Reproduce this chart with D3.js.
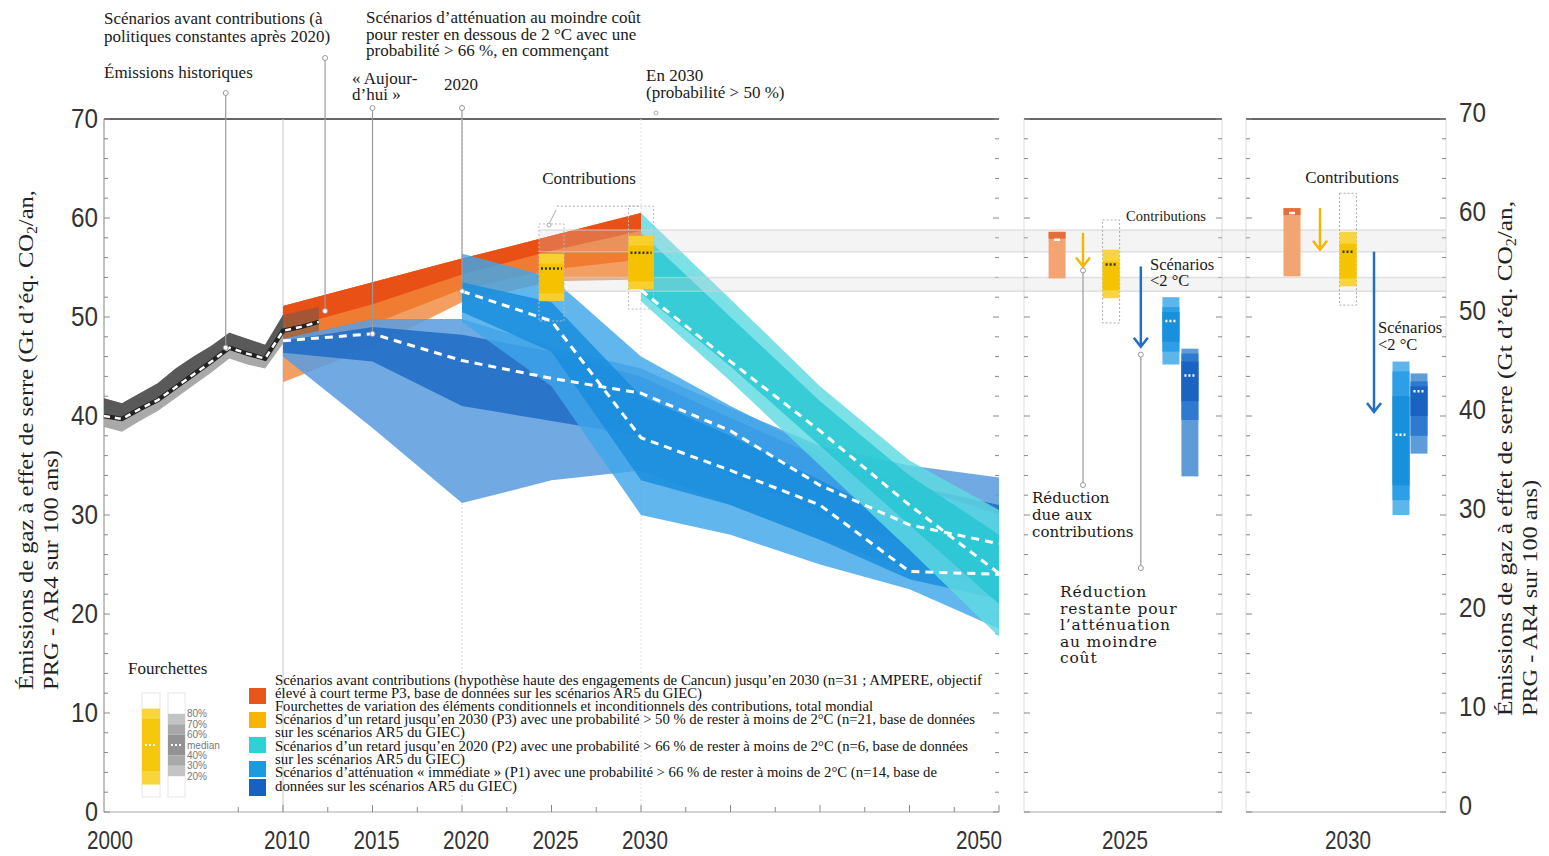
<!DOCTYPE html>
<html><head><meta charset="utf-8">
<script src="https://cdn.jsdelivr.net/npm/d3@7"></script>
<style>body{margin:0;background:#fff} svg{display:block}</style>
</head><body>
<svg id="c" width="1549" height="856"></svg>
<script>
// ---------------- DATA ----------------
const histYears  = [2000,2001,2002,2003,2004,2005,2006,2007,2008,2009,2010,2011,2012];
const histMedian = [40.0,39.7,40.7,41.6,42.9,44.2,45.5,46.9,46.3,45.8,48.6,49.0,49.5];
const histHigh   = [41.8,41.3,42.3,43.3,44.8,46.0,47.1,48.4,47.8,47.2,50.2,50.6,51.0];
const histLow    = [38.9,38.4,39.5,40.5,41.8,43.1,44.4,45.8,45.2,44.8,47.3,47.8,48.2];

const preYears = [2010,2015,2020,2025,2030];
const preMax   = [51.1,53.5,55.9,58.2,60.5];
const preP80   = [48.8,51.3,54.3,56.7,58.7];
const preP50   = [46.2,49.3,52.8,54.8,55.8];
const preMin   = [43.4,47.0,51.5,53.6,53.8];

const p1Years = [2010,2015,2020,2025,2030,2035,2040,2045,2050];
const p1Max   = [47.8,49.8,49.8,47.0,44.8,40.8,37.0,35.0,33.8];
const p1Hi    = [47.6,49.0,48.2,46.5,44.0,39.8,35.8,33.0,31.0];
const p1Lo    = [46.4,45.5,41.0,39.5,38.0,34.0,30.0,27.0,24.5];
const p1Min   = [46.0,38.8,31.2,33.5,34.5,31.0,27.5,24.5,22.5];
const p1Med   = [47.6,48.3,45.6,43.8,42.3,38.5,33.0,29.0,27.1];

const p2Years = [2020,2025,2030,2035,2040,2045,2050];
const p2Max   = [56.4,54.0,46.0,41.0,36.5,33.0,30.0];
const p2Hi    = [53.5,51.5,42.0,38.0,33.5,29.0,27.0];
const p2Lo    = [50.5,46.5,33.5,31.0,27.5,23.5,21.5];
const p2Min   = [49.5,43.0,30.0,28.0,25.0,22.5,18.5];
const p2Med   = [52.6,49.6,37.8,34.5,31.0,24.3,24.0];

const p3Years = [2030,2035,2040,2045,2050];
const p3Max   = [60.5,51.8,43.0,35.5,30.5];
const p3Hi    = [58.5,50.0,41.5,34.0,28.0];
const p3Lo    = [52.4,45.0,37.0,29.0,21.0];
const p3Min   = [51.6,43.5,35.0,26.5,17.7];
const p3Med   = [52.7,45.5,38.5,31.0,24.1];

const contribYears    = [2025,2030];
const contribMin      = [51.6,52.8];
const contribMax      = [56.4,58.2];
const contribMed      = [54.9,56.5];
const contribOuterMin = [49.6,50.8];
const contribOuterMax = [59.4,61.2];

// right panels
const panelLabels   = ["2025","2030"];
const ndcMin        = [53.9,54.1];
const ndcMax        = [58.6,61.0];
const ndcMark       = [57.8,60.5];
const rcMin         = [51.9,53.1];
const rcMax         = [56.8,58.6];
const rcMed         = [55.3,56.6];
const rcOuterMin    = [49.4,51.2];
const rcOuterMax    = [59.8,62.5];
const arrowCFrom    = [58.5,61.0];
const arrowCTo      = [55.1,56.8];
const arrowSFrom    = [55.1,56.6];
const arrowSTo      = [47.0,40.4];
const rP2Min = [45.2,30.0], rP2Lo = [46.5,31.5], rP2CoreLo = [47.5,33.0], rP2CoreHi = [50.5,42.0], rP2Hi = [51.0,44.5], rP2Max = [52.0,45.5], rP2Med = [49.6,38.1];
const rP1Min = [33.9,36.2], rP1Lo = [39.6,38.0], rP1CoreLo = [41.5,40.0], rP1CoreHi = [45.5,43.0], rP1Hi = [46.3,43.5], rP1Max = [46.8,44.3], rP1Med = [44.1,42.5];

const yTicks = [0,10,20,30,40,50,60,70];
const xTickLabels = [2000,2010,2015,2020,2025,2030,2050];

const legendColors = ["#e8561c","#f7b400","#2fd0d6","#1a9be0","#1761c2"];
const legendLines = [
  "Scénarios avant contributions (hypothèse haute des engagements de Cancun) jusqu’en 2030 (n=31 ; AMPERE, objectif",
  "élevé à court terme P3, base de données sur les scénarios AR5 du GIEC)",
  "Fourchettes de variation des éléments conditionnels et inconditionnels des contributions, total mondial",
  "Scénarios d’un retard jusqu’en 2030 (P3) avec une probabilité > 50 % de rester à moins de 2°C (n=21, base de données",
  "sur les scénarios AR5 du GIEC)",
  "Scénarios d’un retard jusqu’en 2020 (P2) avec une probabilité > 66 % de rester à moins de 2°C (n=6, base de données",
  "sur les scénarios AR5 du GIEC)",
  "Scénarios d’atténuation « immédiate » (P1) avec une probabilité > 66 % de rester à moins de 2°C (n=14, base de",
  "données sur les scénarios AR5 du GIEC)"
];
const legendLineWidths = [707,427,598,700,190,693,190,662,242];
const fourchetteLabels = ["80%","70%","60%","median","40%","30%","20%"];
const fourchetteLevels = [80,70,60,50,40,30,20];

// ---------------- LAYOUT ----------------
const svg = d3.select("#c");
const x = d3.scaleLinear().domain([2000,2050]).range([104,999]);
const y = d3.scaleLinear().domain([0,70]).range([812,119]);
const panels = [{x0:1024,x1:1222},{x0:1246,x1:1446}];
const slotFrac = [
  {ndc:0.167, arC:0.298, rc:0.44, arS:0.59, p2:0.742, p1:0.838},
  {ndc:0.23,  arC:0.37,  rc:0.51, arS:0.64, p2:0.775, p1:0.865}
];
const boxW = 17;
const serif = "'Liberation Serif','Times New Roman',serif";
const narrow = "'Liberation Sans Narrow','Arial Narrow','Liberation Sans',sans-serif";

const gBg = svg.append("g"), gData = svg.append("g"), gTop = svg.append("g");

function vTicks(g, xpos, dir){
  d3.range(0,71,2).forEach(v=>{
    const len = v%10===0 ? 6 : 4;
    g.append("line").attr("x1",xpos).attr("x2",xpos+dir*len).attr("y1",y(v)).attr("y2",y(v))
      .attr("stroke","#888").attr("stroke-width",1);
  });
}
gBg.append("line").attr("x1",x(2000)).attr("x2",x(2050)).attr("y1",y(70)).attr("y2",y(70)).attr("stroke","#666").attr("stroke-width",2);
gBg.append("line").attr("x1",x(2000)).attr("x2",x(2000)).attr("y1",y(70)).attr("y2",y(0)).attr("stroke","#999").attr("stroke-width",1.2);
gBg.append("line").attr("x1",x(2000)).attr("x2",x(2050)).attr("y1",y(0)).attr("y2",y(0)).attr("stroke","#aaa").attr("stroke-width",1.2);
vTicks(gBg, x(2000), 1);
vTicks(gBg, x(2050), -1);
[2010,2020,2030].forEach(yr=>{
  gBg.append("line").attr("x1",x(yr)).attr("x2",x(yr)).attr("y1",y(70)).attr("y2",y(0))
    .attr("stroke", yr===2010 ? "#c8c8c8":"#dedede").attr("stroke-width",1).attr("stroke-dasharray", yr===2010?null:"2,2");
});
d3.range(2007.5,2050.1,2.5).forEach(yr=>{
  gBg.append("line").attr("x1",x(yr)).attr("x2",x(yr)).attr("y1",y(0)).attr("y2",y(0)-(yr%5===0?7:5)).attr("stroke","#888");
});
panels.forEach((p,i)=>{
  gBg.append("line").attr("x1",p.x0).attr("x2",p.x1).attr("y1",y(70)).attr("y2",y(70)).attr("stroke","#666").attr("stroke-width",2);
  gBg.append("line").attr("x1",p.x0).attr("x2",p.x1).attr("y1",y(0)).attr("y2",y(0)).attr("stroke","#aaa").attr("stroke-width",1.2);
  gBg.append("line").attr("x1",p.x0).attr("x2",p.x0).attr("y1",y(70)).attr("y2",y(0)).attr("stroke","#ddd");
  gBg.append("line").attr("x1",p.x1).attr("x2",p.x1).attr("y1",y(70)).attr("y2",y(0)).attr("stroke","#ddd");
  vTicks(gBg, p.x0, 1); vTicks(gBg, p.x1, -1);
});

// y tick labels
yTicks.forEach(v=>{
  const w = v===0 ? 13 : 27;
  gTop.append("text").attr("x",98).attr("y",y(v)).attr("dy","0.35em").attr("text-anchor","end")
    .attr("font-family",narrow).attr("font-size",27).attr("fill","#333")
    .attr("textLength",w).attr("lengthAdjust","spacingAndGlyphs").text(v);
  gTop.append("text").attr("x",1459).attr("y",y(v)-6).attr("dy","0.35em").attr("text-anchor","start")
    .attr("font-family",narrow).attr("font-size",27).attr("fill","#333")
    .attr("textLength",w).attr("lengthAdjust","spacingAndGlyphs").text(v);
});
// x tick labels
xTickLabels.forEach(v=>{
  const xx = v===2050 ? x(v)-20 : x(v)+ (v===2000?6:4);
  gTop.append("text").attr("x",xx).attr("y",849).attr("text-anchor","middle")
    .attr("font-family",narrow).attr("font-size",26).attr("fill","#333")
    .attr("textLength",46).attr("lengthAdjust","spacingAndGlyphs").text(v);
});
panels.forEach((p,i)=>{
  gTop.append("text").attr("x",(p.x0+p.x1)/2+2).attr("y",849).attr("text-anchor","middle")
    .attr("font-family",narrow).attr("font-size",26).attr("fill","#333")
    .attr("textLength",46).attr("lengthAdjust","spacingAndGlyphs").text(panelLabels[i]);
});

// axis titles
function yTitle(cx, yStart, len1, len2){
  const t = gTop.append("text").attr("transform",`translate(${cx},${yStart}) rotate(-90)`)
    .attr("font-family",serif).attr("font-size",22).attr("fill","#222")
    .attr("textLength",len1).attr("lengthAdjust","spacingAndGlyphs");
  t.append("tspan").text("Émissions de gaz à effet de serre (Gt d’éq. CO");
  t.append("tspan").attr("font-size",14).attr("dy",4).text("2");
  t.append("tspan").attr("dy",-4).text("/an,");
  gTop.append("text").attr("transform",`translate(${cx+25},${yStart}) rotate(-90)`)
    .attr("font-family",serif).attr("font-size",22).attr("fill","#222")
    .attr("textLength",len2).attr("lengthAdjust","spacingAndGlyphs").text("PRG - AR4 sur 100 ans)");
}
yTitle(33, 690, 500, 240);
yTitle(1512, 716, 515, 236);

// ---------------- BANDS ----------------
function band(years, lo, hi, color, op){
  const a = d3.area().x((d,i)=>x(years[i])).y0((d,i)=>y(lo[i])).y1((d,i)=>y(hi[i]));
  gData.append("path").datum(years).attr("d",a).attr("fill",color).attr("fill-opacity",op);
}
function medLine(years, vals, color, w, dash){
  const l = d3.line().x((d,i)=>x(years[i])).y((d,i)=>y(vals[i]));
  gData.append("path").datum(years).attr("d",l).attr("fill","none").attr("stroke",color)
    .attr("stroke-width",w).attr("stroke-dasharray",dash);
}
band(histYears, histLow, histHigh, "#a9a9a9", 1);
band(histYears, histMedian.map(v=>v-0.2), histHigh, "#595959", 1);

band(preYears, preMin, preMax, "#f39a5a", 0.95);
band(preYears, preP50, preMax, "#ef7a2e", 0.95);
band(preYears, preP80, preMax, "#e84e14", 0.95);
band(histYears.slice(10), histLow.slice(10), histHigh.slice(10), "#6b5a50", 0.55);

band(p1Years, p1Min, p1Max, "#5d9ddf", 0.88);
band(p1Years, p1Lo, p1Hi, "#1d6bc6", 0.85);
band(p2Years, p2Min, p2Max, "#40a6ea", 0.82);
band(p2Years, p2Lo, p2Hi, "#168cdc", 0.8);
band(p3Years, p3Min, p3Max, "#5fdbe2", 0.82);
band(p3Years, p3Lo, p3Hi, "#22c4d0", 0.75);

[[56.6,58.8],[52.6,54.0]].forEach(r=>{
  gData.append("rect").attr("x",x(2024.3)).attr("width",1446-x(2024.3)).attr("y",y(r[1])).attr("height",y(r[0])-y(r[1]))
    .attr("fill","#d4d4d4").attr("fill-opacity",0.25);
  r.forEach(v=>gData.append("line").attr("x1",x(2024.3)).attr("x2",1446).attr("y1",y(v)).attr("y2",y(v))
    .attr("stroke","#cfcfcf").attr("stroke-width",1.5).attr("stroke-opacity",0.6));
});

contribYears.forEach((yr,i)=>{
  const x0 = x(yr-0.7), w = x(yr+0.7)-x(yr-0.7);
  gData.append("rect").attr("x",x0).attr("width",w).attr("y",y(contribOuterMax[i])).attr("height",y(contribOuterMin[i])-y(contribOuterMax[i]))
    .attr("fill","none").attr("stroke","#bbb").attr("stroke-dasharray","2,2");
  gData.append("rect").attr("x",x0).attr("width",w).attr("y",y(contribMax[i])).attr("height",y(contribMin[i])-y(contribMax[i])).attr("fill","#f8cf2e");
  gData.append("rect").attr("x",x0).attr("width",w).attr("y",y(contribMax[i]-1.0)).attr("height",y(contribMin[i]+0.8)-y(contribMax[i]-1.0)).attr("fill","#f6c200");
  gData.append("line").attr("x1",x0+2).attr("x2",x0+w-2).attr("y1",y(contribMed[i])).attr("y2",y(contribMed[i]))
    .attr("stroke","#333").attr("stroke-width",2.5).attr("stroke-dasharray","2,2");
});

medLine(histYears, histMedian, "#222", 4.5, null);
medLine(histYears, histMedian, "#fff", 2.5, "6,5");
medLine(p1Years, p1Med, "#fff", 3, "8,6");
medLine(p2Years, p2Med, "#fff", 3, "8,6");
medLine(p3Years, p3Med, "#fff", 3, "8,6");

// ---------------- RIGHT PANELS ----------------
function rBox(cx, lo, hi, color){
  gData.append("rect").attr("x",cx-boxW/2).attr("width",boxW).attr("y",y(hi)).attr("height",y(lo)-y(hi)).attr("fill",color);
}
function dotMed(cx, v, color){
  gData.append("line").attr("x1",cx-boxW/2+3).attr("x2",cx+boxW/2-3).attr("y1",y(v)).attr("y2",y(v))
    .attr("stroke",color).attr("stroke-width",2.5).attr("stroke-dasharray","2,2");
}
function arrow(cx, from, to, color, w){
  gData.append("line").attr("x1",cx).attr("x2",cx).attr("y1",y(from)).attr("y2",y(to)-2).attr("stroke",color).attr("stroke-width",w);
  gData.append("path").attr("d",`M${cx-7},${y(to)-9} L${cx},${y(to)} L${cx+7},${y(to)-9}`)
    .attr("fill","none").attr("stroke",color).attr("stroke-width",w);
}
panels.forEach((p,i)=>{
  const W = p.x1-p.x0, s = slotFrac[i];
  const cN = p.x0+W*s.ndc, cA = p.x0+W*s.arC, cC = p.x0+W*s.rc, cS = p.x0+W*s.arS, c2 = p.x0+W*s.p2, c1 = p.x0+W*s.p1;
  rBox(cN, ndcMin[i], ndcMax[i], "#f2a472");
  rBox(cN, ndcMax[i]-0.7, ndcMax[i], "#e2703c");
  gData.append("line").attr("x1",cN-3).attr("x2",cN+3).attr("y1",y(ndcMark[i])).attr("y2",y(ndcMark[i])).attr("stroke","#fff").attr("stroke-width",2.5);
  gData.append("rect").attr("x",cC-boxW/2).attr("width",boxW).attr("y",y(rcOuterMax[i])).attr("height",y(rcOuterMin[i])-y(rcOuterMax[i]))
    .attr("fill","none").attr("stroke","#aaa").attr("stroke-dasharray","2,2");
  rBox(cC, rcMin[i], rcMax[i], "#f8d440");
  rBox(cC, rcMin[i]+0.8, rcMax[i]-1.2, "#f5c300");
  dotMed(cC, rcMed[i], "#333");
  arrow(cA, arrowCFrom[i], arrowCTo[i], "#f2b705", 2.5);
  arrow(cS, arrowSFrom[i], arrowSTo[i], "#1f6fc4", 2.5);
  rBox(c2, rP2Min[i], rP2Max[i], "#5cb6ec");
  rBox(c2, rP2Lo[i], rP2Hi[i], "#2c9fe6");
  rBox(c2, rP2CoreLo[i], rP2CoreHi[i], "#1990dc");
  dotMed(c2, rP2Med[i], "#fff");
  rBox(c1, rP1Min[i], rP1Max[i], "#5e9bd9");
  rBox(c1, rP1Lo[i], rP1Hi[i], "#2d7ad0");
  rBox(c1, rP1CoreLo[i], rP1CoreHi[i], "#1a63c0");
  dotMed(c1, rP1Med[i], "#fff");
  p.centers = {cN,cA,cC,cS,c2,c1};
});

// ---------------- ANNOTATIONS ----------------
function txt(xx, yy, s, size, fam, extra){
  const t = gTop.append("text").attr("x",xx).attr("y",yy).attr("font-family",fam||serif).attr("font-size",size||17).attr("fill","#1a1a1a").text(s);
  if (extra) extra(t);
  return t;
}
function leader(xx, y0, y1){
  gTop.append("line").attr("x1",xx).attr("x2",xx).attr("y1",y0).attr("y2",y1).attr("stroke","#9a9a9a").attr("stroke-width",1.2);
  [y0,y1].forEach(yy=>gTop.append("circle").attr("cx",xx).attr("cy",yy).attr("r",2.5).attr("fill","#fff").attr("stroke","#999"));
}
txt(104, 24, "Scénarios avant contributions (à");
txt(104, 42, "politiques constantes après 2020)");
txt(366, 23, "Scénarios d’atténuation au moindre coût");
txt(366, 40, "pour rester en dessous de 2 °C avec une");
txt(366, 56, "probabilité > 66 %, en commençant");
txt(104, 78, "Émissions historiques");
txt(352, 84, "« Aujour-");
txt(352, 100, "d’hui »");
txt(444, 90, "2020");
txt(646, 81, "En 2030");
txt(646, 98, "(probabilité > 50 %)");

leader(x(2006.8), 93, y(46.9));
leader(x(2012.35), 58, y(50.6));
leader(x(2015), 108, y(48.3));
leader(x(2020), 108, y(52.6));
gTop.append("circle").attr("cx",656).attr("cy",113).attr("r",2).attr("fill","#fff").attr("stroke","#aaa");

txt(589, 184, "Contributions", 17, serif, t=>t.attr("text-anchor","middle"));
gTop.append("line").attr("x1",x(2025.3)).attr("x2",x(2030)).attr("y1",y(61.2)).attr("y2",y(61.2)).attr("stroke","#aaa").attr("stroke-dasharray","2,2");
gTop.append("line").attr("x1",556).attr("x2",549).attr("y1",210).attr("y2",224).attr("stroke","#aaa");
gTop.append("circle").attr("cx",549).attr("cy",225).attr("r",2).attr("fill","#fff").attr("stroke","#aaa");

const P0 = panels[0].centers;
txt(1166, 221, "Contributions", 14.5, serif, t=>t.attr("text-anchor","middle").attr("textLength",80).attr("lengthAdjust","spacingAndGlyphs"));
txt(1352, 183, "Contributions", 17, serif, t=>t.attr("text-anchor","middle"));
txt(1150, 270, "Scénarios", 16.5);
txt(1150, 286, "<2 °C", 16.5);
txt(1378, 333, "Scénarios", 16.5);
txt(1378, 350, "<2 °C", 16.5);
leader(P0.cA, y(54.7), 485);
leader(P0.cS, y(46.2), 568);
const dv = "'DejaVu Serif','Liberation Serif',serif";
["Réduction","due aux","contributions"].forEach((s,k)=>txt(1032, 503+k*17, s, 15, dv));
["Réduction","restante pour","l’atténuation","au moindre","coût"].forEach((s,k)=>txt(1060, 597+k*16.5, s, 15.5, dv, t=>t.attr("letter-spacing",0.8)));

// ---------------- LEGEND ----------------
txt(128, 674, "Fourchettes", 17);
const fy = d3.scaleLinear().domain([100,0]).range([693,797]);
gTop.append("rect").attr("x",142).attr("y",fy(100)).attr("width",18).attr("height",fy(0)-fy(100)).attr("fill","#fff").attr("stroke","#e6e6e6");
gTop.append("rect").attr("x",142).attr("y",fy(85)).attr("width",18).attr("height",fy(12)-fy(85)).attr("fill","#f8d53a");
gTop.append("rect").attr("x",142).attr("y",fy(75)).attr("width",18).attr("height",fy(25)-fy(75)).attr("fill","#f6c80c");
gTop.append("line").attr("x1",145).attr("x2",157).attr("y1",fy(50)).attr("y2",fy(50)).attr("stroke","#fff").attr("stroke-width",2).attr("stroke-dasharray","2,2");
gTop.append("rect").attr("x",168).attr("y",fy(100)).attr("width",17).attr("height",fy(0)-fy(100)).attr("fill","#fff").attr("stroke","#e6e6e6");
const grayCols = ["#c4c4c4","#a9a9a9","#939393","#939393","#a9a9a9","#c4c4c4"];
for (let k=0;k<6;k++){
  const top = fourchetteLevels[k], bot = fourchetteLevels[k+1];
  gTop.append("rect").attr("x",168).attr("y",fy(top)).attr("width",17).attr("height",fy(bot)-fy(top)).attr("fill",grayCols[k]);
}
gTop.append("line").attr("x1",171).attr("x2",182).attr("y1",fy(50)).attr("y2",fy(50)).attr("stroke","#fff").attr("stroke-width",2).attr("stroke-dasharray","2,2");
fourchetteLabels.forEach((s,k)=>{
  gTop.append("text").attr("x",187).attr("y",fy(fourchetteLevels[k])).attr("dy","0.35em")
    .attr("font-family",narrow).attr("font-size",10).attr("fill","#777").text(s);
});
const swY = [688,712,737,761,779];
legendColors.forEach((c,k)=>{
  gTop.append("rect").attr("x",249).attr("y",swY[k]).attr("width",17).attr("height",k===4?17:16).attr("fill",c);
});
const lineY = [685,698,711,724,737,751,764,777,791];
legendLines.forEach((s,k)=>{
  gTop.append("text").attr("x",275).attr("y",lineY[k]).attr("font-family",serif).attr("font-size",14.5)
    .attr("fill","#111").attr("textLength",legendLineWidths[k]).attr("lengthAdjust","spacingAndGlyphs").text(s);
});
</script></body></html>
